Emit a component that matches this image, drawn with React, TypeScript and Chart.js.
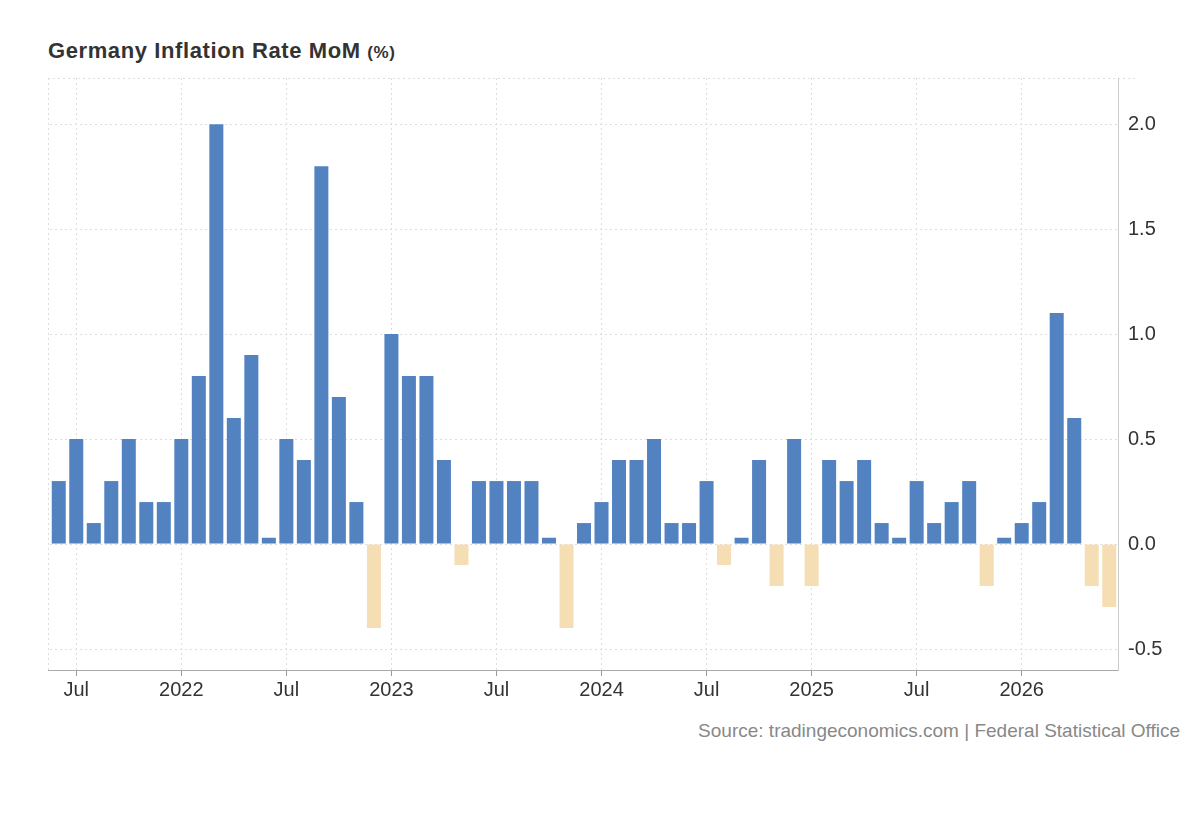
import React, { useEffect, useRef } from "react";
import { Chart, registerables } from "chart.js";
Chart.register(...registerables);

const months = ["Jan","Feb","Mar","Apr","May","Jun","Jul","Aug","Sep","Oct","Nov","Dec"];
const startYear = 2021;
const startMonth = 5; // Jun
const values = [
  0.3, 0.5, 0.1, 0.3, 0.5, 0.2, 0.2,
  0.5, 0.8, 2.0, 0.6, 0.9, 0.03, 0.5, 0.4, 1.8, 0.7, 0.2, -0.4,
  1.0, 0.8, 0.8, 0.4, -0.1, 0.3, 0.3, 0.3, 0.3, 0.03, -0.4, 0.1,
  0.2, 0.4, 0.4, 0.5, 0.1, 0.1, 0.3, -0.1, 0.03, 0.4, -0.2, 0.5,
  -0.2, 0.4, 0.3, 0.4, 0.1, 0.03, 0.3, 0.1, 0.2, 0.3, -0.2, 0.03,
  0.1, 0.2, 1.1, 0.6, -0.2, -0.3,
];
const yTicks = [-0.5, 0, 0.5, 1.0, 1.5, 2.0];
const labels = values.map((_, i) => {
  const m = (startMonth + i) % 12;
  const y = startYear + Math.floor((startMonth + i) / 12);
  return `${months[m]} ${y}`;
});
const tickText = (i: number) => {
  const m = (startMonth + i) % 12;
  const y = startYear + Math.floor((startMonth + i) / 12);
  if (m === 0) return String(y);
  if (m === 6) return "Jul";
  return "";
};

const FONT = "'Liberation Sans', Arial, sans-serif";

export default function App() {
  const ref = useRef<HTMLCanvasElement>(null);
  useEffect(() => {
    document.body.style.margin = "0";
    const chart = new Chart(ref.current!, {
      type: "bar",
      data: {
        labels,
        datasets: [{
          data: values,
          backgroundColor: values.map(v => (v < 0 ? "#f5ddb4" : "#5283c0")),
          barPercentage: 0.8,
          categoryPercentage: 1,
        }],
      },
      options: {
        animation: false,
        responsive: false,
        layout: { padding: { left: 50, right: 10, top: 78, bottom: 0 } },
        plugins: { legend: { display: false }, tooltip: { enabled: false } },
        scales: {
          x: {
            grid: {
              offset: false,
              color: (c: any) => (tickText(c.index) ? "#dddddd" : "rgba(0,0,0,0)"),
              tickColor: (c: any) => (tickText(c.index) ? "#999" : "rgba(0,0,0,0)"),
              tickLength: 6,
              lineWidth: 1,
            } as any,
            border: { display: true, color: "#aaaaaa", dash: [2, 3] },
            ticks: {
              autoSkip: false,
              maxRotation: 0,
              callback: (_v: any, i: number) => tickText(i),
              font: { family: FONT, size: 20 },
              color: "#333",
              padding: 2,
            },
            afterFit: (s: any) => { s.height = 50; },
          },
          y: {
            position: "right",
            min: -0.6,
            max: 2.22,
            afterBuildTicks: (s: any) => { s.ticks = yTicks.map(v => ({ value: v })); },
            grid: { color: "#dddddd", drawTicks: false },
            border: { display: false, dash: [2, 3] },
            ticks: {
              callback: (v: any) => Number(v).toFixed(1),
              font: { family: FONT, size: 20 },
              color: "#333",
              padding: 10,
            },
            afterFit: (s: any) => { s.width = 72; },
          },
        },
      },
      plugins: [{
        id: "frame",
        afterDraw: (c: any) => {
          const ctx = c.ctx; const a = c.chartArea;
          ctx.save();
          ctx.strokeStyle = "#dddddd"; ctx.setLineDash([2, 3]);
          ctx.beginPath(); ctx.moveTo(a.left - 2, a.top + 0.5); ctx.lineTo(1138, a.top + 0.5);
          ctx.moveTo(a.left - 1.5, a.top); ctx.lineTo(a.left - 1.5, a.bottom);
          ctx.stroke();
          ctx.setLineDash([]); ctx.strokeStyle = "#cccccc";
          ctx.beginPath(); ctx.moveTo(a.right + 0.5, a.top); ctx.lineTo(a.right + 0.5, a.bottom + 1); ctx.stroke();
          ctx.strokeStyle = "#aaaaaa";
          ctx.beginPath(); ctx.moveTo(a.left - 2, a.bottom + 0.5); ctx.lineTo(a.right, a.bottom + 0.5); ctx.stroke();
          ctx.restore();
        },
      }],
    } as any);
    return () => chart.destroy();
  }, []);
  return (
    <div style={{ position: "relative", width: 1200, height: 820, fontFamily: FONT, background: "#fff" }}>
      <div style={{ position: "absolute", left: 48, top: 38, fontSize: 22, fontWeight: "bold", color: "#333", letterSpacing: 0.6 }}>
        Germany Inflation Rate MoM <span style={{ fontSize: 17 }}>(%)</span>
      </div>
      <canvas ref={ref} width={1200} height={720} style={{ position: "absolute", left: 0, top: 0 }} />
      <div style={{ position: "absolute", right: 20, top: 720, fontSize: 19, color: "#888" }}>
        Source: tradingeconomics.com | Federal Statistical Office
      </div>
    </div>
  );
}
